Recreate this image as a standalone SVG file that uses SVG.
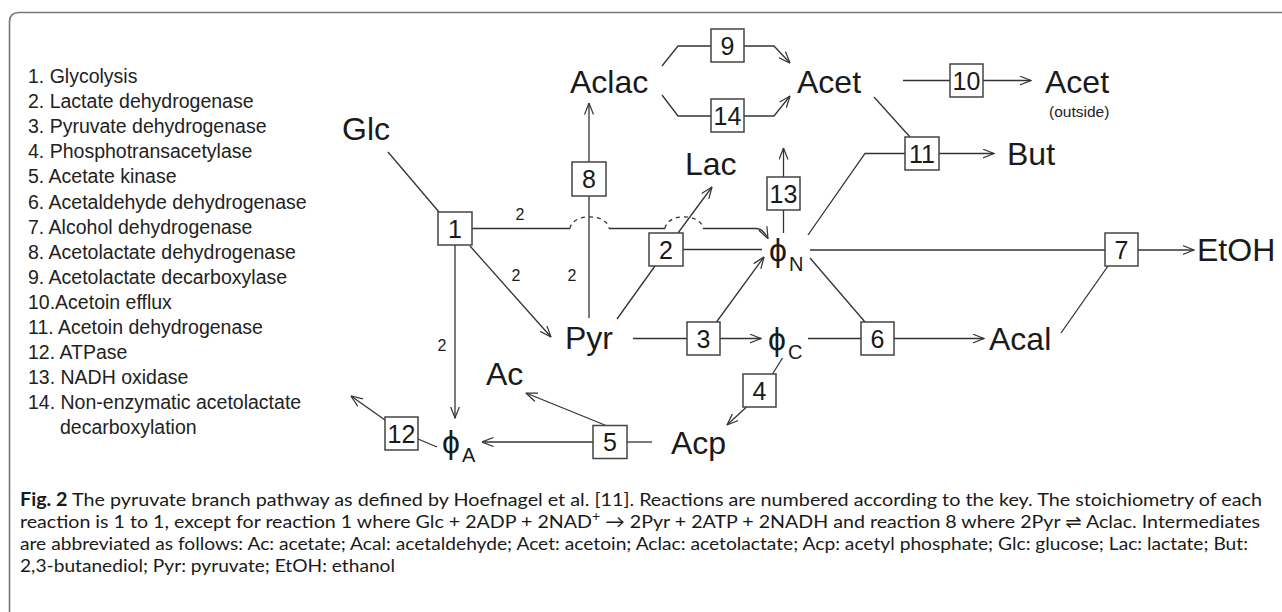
<svg xmlns="http://www.w3.org/2000/svg" width="1282" height="612" viewBox="0 0 1282 612">
<style>
.key{font-family:"Liberation Sans",Arial,sans-serif;font-size:19.5px;fill:#222}
.lbl{font-family:"Liberation Sans",Arial,sans-serif;font-size:32px;fill:#1a1a1a}
.phi{font-family:"Liberation Sans","DejaVu Sans",sans-serif;font-size:32px;fill:#1a1a1a}
.sub{font-family:"Liberation Sans",Arial,sans-serif;font-size:20px;fill:#1a1a1a}
.box{fill:#fff;stroke:#444;stroke-width:1.5}
.num{font-family:"Liberation Sans",Arial,sans-serif;font-size:25px;fill:#1a1a1a;text-anchor:middle}
.two{font-family:"Liberation Sans",Arial,sans-serif;font-size:16px;fill:#1a1a1a;text-anchor:middle}
.ln{fill:none;stroke:#333;stroke-width:1.3}
.arr{marker-end:url(#ah)}
.dash{fill:none;stroke:#333;stroke-width:1.3;stroke-dasharray:4 4}
.cap{font-family:Lato,"Open Sans","DejaVu Sans",sans-serif;font-size:18px;fill:#1a1a1a}
</style>
<defs>
<marker id="ah" viewBox="0 0 12 10" refX="11.5" refY="5" markerWidth="12" markerHeight="10" markerUnits="userSpaceOnUse" orient="auto">
<path d="M0,0.5 L11.5,5 L0,9.5" fill="none" stroke="#333" stroke-width="1.2"/>
</marker>
</defs>
<rect width="1282" height="612" fill="#fff"/>
<path d="M9.5,612 V22 Q9.5,12.5 19,12.5 H1282" fill="none" stroke="#777" stroke-width="1.6"/>

<g id="key" class="key">
<text x="28" y="83">1. Glycolysis</text>
<text x="28" y="108.1">2. Lactate dehydrogenase</text>
<text x="28" y="133.2">3. Pyruvate dehydrogenase</text>
<text x="28" y="158.3">4. Phosphotransacetylase</text>
<text x="28" y="183.4">5. Acetate kinase</text>
<text x="28" y="208.5">6. Acetaldehyde dehydrogenase</text>
<text x="28" y="233.6">7. Alcohol dehydrogenase</text>
<text x="28" y="258.7">8. Acetolactate dehydrogenase</text>
<text x="28" y="283.8">9. Acetolactate decarboxylase</text>
<text x="28" y="308.9">10.Acetoin efflux</text>
<text x="28" y="334">11. Acetoin dehydrogenase</text>
<text x="28" y="359.1">12. ATPase</text>
<text x="28" y="384.2">13. NADH oxidase</text>
<text x="28" y="409.3">14. Non-enzymatic acetolactate</text>
<text x="60" y="434.4">decarboxylation</text>
</g>

<g id="connectors">
<line class="ln" x1="388" y1="152" x2="439" y2="212"/>
<path class="ln" d="M472,228.5 H570 M609,228.5 H665 M703,228.5 H756"/>
<path class="ln arr" d="M756,228.5 Q763,228.5 768,238.5"/>
<path class="dash" d="M570,228.5 C572,213 607,213 609,228.5"/>
<path class="dash" d="M665,228.5 C667,213 701,213 703,228.5"/>
<line class="ln arr" x1="470" y1="246" x2="551" y2="337"/>
<line class="ln arr" x1="455" y1="245" x2="455" y2="418"/>
<line class="ln" x1="589" y1="318" x2="589" y2="196"/>
<line class="ln arr" x1="589" y1="162" x2="589" y2="103"/>
<polyline class="ln" points="662,66 678,46 711,46"/>
<polyline class="ln arr" points="744,46 774,46 790,63"/>
<polyline class="ln" points="662,95 678,116 711,116"/>
<polyline class="ln arr" points="744,116 774,116 790,96"/>
<line class="ln" x1="903" y1="80.5" x2="950" y2="80.5"/>
<line class="ln arr" x1="983" y1="80.5" x2="1031" y2="80.5"/>
<line class="ln" x1="874" y1="97" x2="910" y2="137"/>
<polyline class="ln" points="808,235 865,153.5 905,153.5"/>
<line class="ln arr" x1="939" y1="153.5" x2="994" y2="153.5"/>
<line class="ln" x1="783.5" y1="233" x2="783.5" y2="210"/>
<line class="ln arr" x1="783.5" y1="177" x2="783.5" y2="148"/>
<line class="ln" x1="617" y1="319" x2="655" y2="266"/>
<line class="ln arr" x1="678" y1="233" x2="712" y2="187"/>
<line class="ln" x1="683" y1="249.5" x2="762" y2="249.5"/>
<line class="ln" x1="633" y1="338.5" x2="687" y2="338.5"/>
<line class="ln arr" x1="720" y1="338.5" x2="761" y2="338.5"/>
<line class="ln arr" x1="716.5" y1="322" x2="764" y2="257"/>
<line class="ln" x1="808" y1="338.5" x2="861" y2="338.5"/>
<line class="ln" x1="810" y1="258" x2="865" y2="322"/>
<line class="ln arr" x1="894" y1="338.5" x2="984" y2="338.5"/>
<line class="ln" x1="810" y1="250" x2="1105" y2="250"/>
<line class="ln" x1="1061" y1="333" x2="1108" y2="266"/>
<line class="ln arr" x1="1138" y1="250" x2="1194" y2="250"/>
<line class="ln" x1="782.5" y1="358" x2="772.5" y2="374"/>
<line class="ln arr" x1="746.5" y1="407" x2="727" y2="425"/>
<line class="ln" x1="652" y1="442" x2="627" y2="442"/>
<line class="ln arr" x1="593" y1="442" x2="482" y2="442"/>
<line class="ln arr" x1="606" y1="425.5" x2="526" y2="393"/>
<line class="ln" x1="437" y1="447" x2="418" y2="439"/>
<line class="ln arr" x1="385" y1="420" x2="351" y2="396"/>
<text class="two" x="520" y="219.5">2</text>
<text class="two" x="516" y="281">2</text>
<text class="two" x="572" y="281">2</text>
<text class="two" x="442" y="351">2</text>
</g>

<g id="node-glc"><text class="lbl" x="342" y="140">Glc</text></g>
<g id="node-aclac"><text class="lbl" x="570" y="93">Aclac</text></g>
<g id="node-acet"><text class="lbl" x="797" y="93">Acet</text></g>
<g id="node-acet-out"><text class="lbl" x="1045" y="93">Acet</text><text class="key" style="font-size:15.5px" x="1049" y="117">(outside)</text></g>
<g id="node-lac"><text class="lbl" x="685" y="175">Lac</text></g>
<g id="node-but"><text class="lbl" x="1007" y="165">But</text></g>
<g id="node-pyr"><text class="lbl" x="565" y="349">Pyr</text></g>
<g id="node-acal"><text class="lbl" x="989" y="350">Acal</text></g>
<g id="node-etoh"><text class="lbl" x="1197" y="261">EtOH</text></g>
<g id="node-ac"><text class="lbl" x="486" y="385">Ac</text></g>
<g id="node-acp"><text class="lbl" x="671" y="453.5">Acp</text></g>
<g id="node-phiN"><text class="phi" x="769" y="261">ϕ</text><text class="sub" x="789" y="271">N</text></g>
<g id="node-phiC"><text class="phi" x="768" y="350">ϕ</text><text class="sub" x="788" y="359">C</text></g>
<g id="node-phiA"><text class="phi" x="442" y="453">ϕ</text><text class="sub" x="462" y="462">A</text></g>

<g id="r1"><rect class="box" x="438" y="212" width="34" height="33"/><text class="num" x="455" y="237.5">1</text></g>
<g id="r2"><rect class="box" x="649" y="233" width="34" height="33"/><text class="num" x="666" y="258.5">2</text></g>
<g id="r3"><rect class="box" x="687" y="322" width="33" height="33"/><text class="num" x="703.5" y="347.5">3</text></g>
<g id="r4"><rect class="box" x="743" y="374" width="33" height="33"/><text class="num" x="759.5" y="399.5">4</text></g>
<g id="r5"><rect class="box" x="593" y="425.5" width="34" height="33"/><text class="num" x="610" y="451">5</text></g>
<g id="r6"><rect class="box" x="861" y="322" width="33" height="33"/><text class="num" x="877.5" y="347.5">6</text></g>
<g id="r7"><rect class="box" x="1105" y="233" width="33" height="33"/><text class="num" x="1121.5" y="258.5">7</text></g>
<g id="r8"><rect class="box" x="572" y="162" width="34" height="34"/><text class="num" x="589" y="188">8</text></g>
<g id="r9"><rect class="box" x="711" y="29" width="33" height="33"/><text class="num" x="727.5" y="54.5">9</text></g>
<g id="r10"><rect class="box" x="950" y="64" width="33" height="33"/><text class="num" x="966.5" y="89.5">10</text></g>
<g id="r11"><rect class="box" x="905" y="137" width="34" height="33"/><text class="num" x="922" y="162.5">11</text></g>
<g id="r12"><rect class="box" x="385" y="417" width="33" height="33"/><text class="num" x="401.5" y="442.5">12</text></g>
<g id="r13"><rect class="box" x="767" y="177" width="33" height="33"/><text class="num" x="783.5" y="202.5">13</text></g>
<g id="r14"><rect class="box" x="711" y="99" width="33" height="33"/><text class="num" x="727.5" y="124.5">14</text></g>

<g id="caption" class="cap">
<text x="20" y="506" textLength="1242" lengthAdjust="spacingAndGlyphs"><tspan font-weight="bold">Fig. 2</tspan> The pyruvate branch pathway as defined by Hoefnagel et al. [11]. Reactions are numbered according to the key. The stoichiometry of each</text>
<text x="20" y="528" textLength="1240" lengthAdjust="spacingAndGlyphs">reaction is 1 to 1, except for reaction 1 where Glc + 2ADP + 2NAD<tspan dy="-7" font-size="13">+</tspan><tspan dy="7"> → 2Pyr + 2ATP + 2NADH and reaction 8 where 2Pyr ⇌ Aclac. Intermediates</tspan></text>
<text x="20" y="550" textLength="1228" lengthAdjust="spacingAndGlyphs">are abbreviated as follows: Ac: acetate; Acal: acetaldehyde; Acet: acetoin; Aclac: acetolactate; Acp: acetyl phosphate; Glc: glucose; Lac: lactate; But:</text>
<text x="20" y="572" textLength="375" lengthAdjust="spacingAndGlyphs">2,3-butanediol; Pyr: pyruvate; EtOH: ethanol</text>
</g>
</svg>
